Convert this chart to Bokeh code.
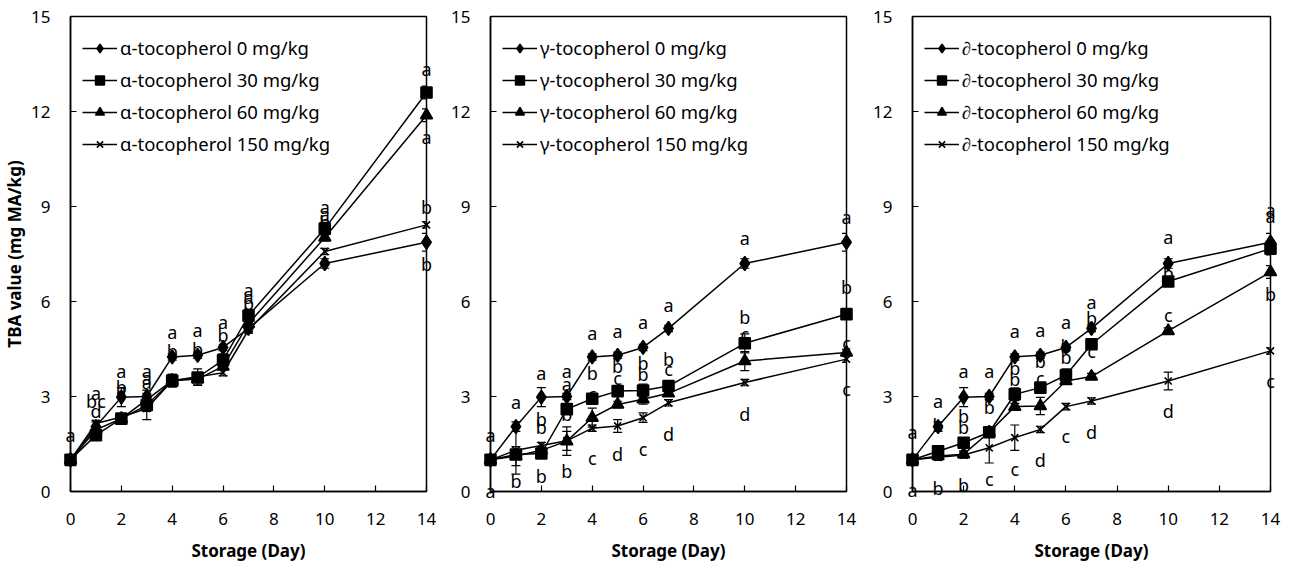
from bokeh.plotting import figure
from bokeh.models import Range1d, Legend, LegendItem, Whisker, ColumnDataSource
from bokeh.layouts import row
from bokeh.embed import file_html
from bokeh.resources import INLINE
from bokeh.core.properties import value

FONT = "Noto Sans"

days = [0, 1, 2, 3, 4, 5, 6, 7, 10, 14]
dose_labels = ["0 mg/kg", "30 mg/kg", "60 mg/kg", "150 mg/kg"]

# control (0 mg/kg) shared by all panels
control = [1.0, 2.05, 2.98, 3.0, 4.25, 4.3, 4.55, 5.15, 7.2, 7.87]
control_err = [0.05, 0.15, 0.3, 0.1, 0.1, 0.1, 0.1, 0.1, 0.15, 0.28]

# alpha-tocopherol
alpha_30 = [1.0, 1.78, 2.3, 2.73, 3.5, 3.6, 4.15, 5.55, 8.3, 12.6]
alpha_60 = [1.0, 1.95, 2.3, 2.9, 3.5, 3.55, 3.95, 5.3, 8.02, 11.88]
alpha_150 = [1.0, 2.15, 2.35, 2.62, 3.5, 3.62, 3.75, 5.1, 7.58, 8.42]
alpha_30_err = [0.05, 0.1, 0.1, 0.2, 0.15, 0.1, 0.2, 0.2, 0.2, 0.2]
alpha_60_err = [0.05, 0.1, 0.1, 0.3, 0.2, 0.2, 0.1, 0.1, 0.1, 0.2]
alpha_150_err = [0.05, 0.1, 0.1, 0.35, 0.2, 0.25, 0.1, 0.1, 0.1, 0.1]

# gamma-tocopherol
gamma_30 = [1.0, 1.17, 1.2, 2.6, 2.93, 3.17, 3.19, 3.33, 4.68, 5.6]
gamma_60 = [1.0, 1.12, 1.3, 1.59, 2.33, 2.75, 2.91, 3.1, 4.12, 4.39]
gamma_150 = [1.0, 1.3, 1.45, 1.6, 2.0, 2.07, 2.33, 2.8, 3.44, 4.18]
gamma_30_err = [0.05, 0.1, 0.1, 0.1, 0.1, 0.15, 0.2, 0.15, 0.3, 0.1]
gamma_60_err = [0.05, 0.3, 0.1, 0.45, 0.3, 0.1, 0.15, 0.1, 0.3, 0.1]
gamma_150_err = [0.05, 0.75, 0.1, 0.3, 0.1, 0.2, 0.15, 0.1, 0.1, 0.1]

# delta-tocopherol
delta_30 = [1.0, 1.27, 1.54, 1.87, 3.07, 3.28, 3.67, 4.65, 6.63, 7.67]
delta_60 = [1.0, 1.12, 1.18, 1.87, 2.68, 2.7, 3.49, 3.63, 5.07, 6.93]
delta_150 = [1.0, 1.08, 1.15, 1.38, 1.7, 1.96, 2.68, 2.86, 3.49, 4.44]
delta_30_err = [0.05, 0.1, 0.1, 0.1, 0.2, 0.15, 0.2, 0.15, 0.1, 0.2]
delta_60_err = [0.05, 0.1, 0.1, 0.1, 0.1, 0.27, 0.1, 0.1, 0.1, 0.2]
delta_150_err = [0.05, 0.1, 0.1, 0.48, 0.4, 0.1, 0.1, 0.1, 0.28, 0.1]

# significance letters (day, height, letter)
alpha_letter_x = [0, 1, 1, 1, 2, 2, 2, 3, 3, 3, 4, 4, 5, 5, 6, 6, 7, 7, 7, 10, 10, 10, 14, 14, 14, 14]
alpha_letter_y = [1.8, 3.1, 2.85, 2.55, 3.8, 3.3, 3.2, 3.8, 3.6, 3.45, 5.05, 4.45, 5.1, 4.5, 5.35, 4.95,
                  6.35, 6.15, 5.95, 9.0, 8.75, 8.5, 13.35, 11.2, 9.0, 7.2]
alpha_letters = ["a", "a", "bc", "d", "a", "b", "a", "a", "a", "a", "a", "b", "a", "b", "a", "b",
                 "a", "a", "b", "a", "a", "b", "a", "a", "b", "b"]

gamma_letter_x = [0, 0, 1, 1, 2, 2, 2, 2, 3, 3, 3, 3, 4, 4, 4, 4, 5, 5, 5, 5, 6, 6, 6, 6,
                  7, 7, 7, 7, 10, 10, 10, 10, 14, 14, 14, 14]
gamma_letter_y = [1.8, 0.03, 2.83, 0.33, 3.75, 2.3, 2.05, 0.48, 3.8, 3.4, 2.45, 0.64,
                  5.0, 3.73, 3.07, 1.07, 5.07, 3.97, 3.6, 1.17, 5.34, 4.07, 3.7, 1.35,
                  5.9, 4.2, 3.86, 1.83, 8.02, 5.5, 4.97, 2.44, 8.67, 6.45, 4.7, 3.23]
gamma_letters = ["a", "a", "a", "b", "a", "b", "b", "b", "a", "a", "b", "b",
                 "a", "b", "c", "c", "a", "b", "c", "d", "a", "b", "b", "c",
                 "a", "b", "c", "d", "a", "b", "c", "d", "a", "b", "c", "c"]

delta_letter_x = [0, 0, 1, 1, 1, 2, 2, 2, 2, 3, 3, 3, 4, 4, 4, 4, 5, 5, 5, 5, 6, 6, 6, 6,
                  7, 7, 7, 7, 10, 10, 10, 10, 14, 14, 14, 14]
delta_letter_y = [1.87, 0.06, 2.85, 2.1, 0.12, 3.8, 2.4, 2.04, 0.22, 3.8, 2.68, 0.38,
                  5.07, 3.89, 3.54, 0.7, 5.1, 4.12, 3.59, 0.99, 5.36, 4.6, 4.26, 1.76,
                  6.0, 5.47, 4.44, 1.87, 8.05, 6.9, 5.57, 2.55, 8.9, 8.7, 6.23, 3.49]
delta_letters = ["a", "a", "a", "b", "b", "a", "b", "b", "b", "a", "b", "c",
                 "a", "b", "b", "c", "a", "b", "c", "d", "a", "b", "b", "c",
                 "a", "b", "c", "d", "a", "b", "c", "d", "a", "a", "b", "c"]

MARKERS = [("diamond", 14), ("square", 11), ("triangle", 12), ("x", 10)]


def make_panel(prefix, series, errs, lx, ly, lt, bl, br, fw, ylabel):
    p = figure(frame_width=fw, frame_height=475,
               x_range=Range1d(0, 14), y_range=Range1d(0, 15),
               min_border_left=bl, min_border_right=br, min_border_top=16, min_border_bottom=67,
               output_backend="svg", toolbar_location=None)
    p.xgrid.visible = False
    p.ygrid.visible = False
    p.outline_line_color = "black"
    p.outline_line_width = 1.5
    p.outline_line_alpha = 1.0
    p.background_fill_color = "white"
    p.border_fill_color = "white"

    for ax in (p.xaxis[0], p.yaxis[0]):
        ax.axis_line_width = 1.5
        ax.axis_line_color = "black"
        ax.major_tick_in = 6
        ax.major_tick_out = 0
        ax.major_tick_line_width = 1.2
        ax.minor_tick_line_color = None
        ax.major_label_text_font = FONT
        ax.major_label_text_font_size = "17px"
        ax.major_label_text_color = "black"
        ax.axis_label_text_font = FONT
        ax.axis_label_text_font_size = "17px"
        ax.axis_label_text_font_style = "bold"
        ax.axis_label_text_color = "black"
    p.xaxis.ticker = [0, 2, 4, 6, 8, 10, 12, 14]
    p.yaxis.ticker = [0, 3, 6, 9, 12, 15]
    p.xaxis.major_label_standoff = 21
    p.xaxis.axis_label_standoff = 11
    p.xaxis.axis_label = "Storage (Day)"
    p.yaxis.major_label_standoff = 20
    if ylabel:
        p.yaxis.axis_label = "TBA value (mg MA/kg)"
        p.yaxis.axis_label_standoff = 2

    items = []
    for (vals, err, (mk, sz), dl) in zip(series, errs, MARKERS, dose_labels):
        src = ColumnDataSource(dict(x=days, y=vals,
                                    lo=[v - e for v, e in zip(vals, err)],
                                    hi=[v + e for v, e in zip(vals, err)]))
        w = Whisker(base="x", lower="lo", upper="hi", source=src,
                    line_color="black", line_width=1.2, level="overlay")
        w.upper_head.size = 9
        w.lower_head.size = 9
        w.upper_head.line_width = 1.2
        w.lower_head.line_width = 1.2
        p.add_layout(w)
        ln = p.line("x", "y", source=src, line_color="black", line_width=1.5, level="overlay")
        sc = p.scatter("x", "y", source=src, marker=mk, size=sz, fill_color="black",
                       line_color="black", line_width=1.6, level="overlay")
        items.append(LegendItem(label=prefix + "-tocopherol " + dl, renderers=[ln, sc]))

    p.text(x=lx, y=ly, text=lt, text_align="center", text_baseline="middle",
           text_font=value(FONT), text_font_size="18px", text_color="#000000", level="overlay")

    leg = Legend(items=items, location=(7, 330), border_line_alpha=0, background_fill_alpha=0,
                 label_text_font=FONT, label_text_font_size="18.5px", label_text_color="black",
                 glyph_width=35, glyph_height=22, label_height=22, spacing=7,
                 padding=5, margin=0, label_standoff=3)
    p.add_layout(leg)
    return p


p1 = make_panel("α", [control, alpha_30, alpha_60, alpha_150],
                [control_err, alpha_30_err, alpha_60_err, alpha_150_err],
                alpha_letter_x, alpha_letter_y, alpha_letters, 62, 19, 356, True)
p2 = make_panel("γ", [control, gamma_30, gamma_60, gamma_150],
                [control_err, gamma_30_err, gamma_60_err, gamma_150_err],
                gamma_letter_x, gamma_letter_y, gamma_letters, 45, 20, 356, False)
p3 = make_panel("∂", [control, delta_30, delta_60, delta_150],
                [control_err, delta_30_err, delta_60_err, delta_150_err],
                delta_letter_x, delta_letter_y, delta_letters, 46, 11, 358, False)

layout = row(p1, p2, p3)
open("out.html", "w").write(file_html(layout, INLINE))
